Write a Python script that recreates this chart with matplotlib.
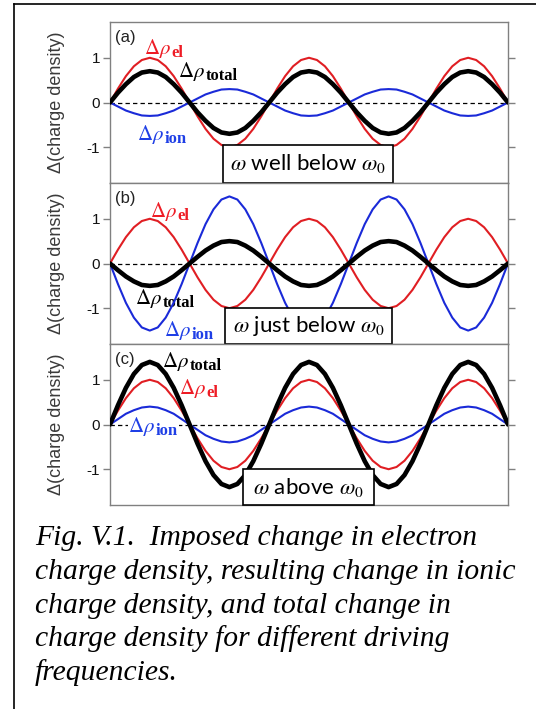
import numpy as np
import matplotlib
matplotlib.use("Agg")
import matplotlib.pyplot as plt
from matplotlib.patches import Rectangle
from matplotlib.lines import Line2D

plt.rcParams["mathtext.fontset"] = "stix"

# imposed electron density, 2.5 driving periods, 20 samples per period
el = [0, 0.31, 0.59, 0.81, 0.95, 1.0, 0.95, 0.81, 0.59, 0.31,
      0, -0.31, -0.59, -0.81, -0.95, -1.0, -0.95, -0.81, -0.59, -0.31,
      0, 0.31, 0.59, 0.81, 0.95, 1.0, 0.95, 0.81, 0.59, 0.31,
      0, -0.31, -0.59, -0.81, -0.95, -1.0, -0.95, -0.81, -0.59, -0.31,
      0, 0.31, 0.59, 0.81, 0.95, 1.0, 0.95, 0.81, 0.59, 0.31, 0]

# (a) omega well below omega_0
ion_a = [0, -0.09, -0.18, -0.24, -0.29, -0.3, -0.29, -0.24, -0.18, -0.09,
         0, 0.09, 0.18, 0.24, 0.29, 0.3, 0.29, 0.24, 0.18, 0.09,
         0, -0.09, -0.18, -0.24, -0.29, -0.3, -0.29, -0.24, -0.18, -0.09,
         0, 0.09, 0.18, 0.24, 0.29, 0.3, 0.29, 0.24, 0.18, 0.09,
         0, -0.09, -0.18, -0.24, -0.29, -0.3, -0.29, -0.24, -0.18, -0.09, 0]
tot_a = [0, 0.22, 0.41, 0.57, 0.67, 0.7, 0.67, 0.57, 0.41, 0.22,
         0, -0.22, -0.41, -0.57, -0.67, -0.7, -0.67, -0.57, -0.41, -0.22,
         0, 0.22, 0.41, 0.57, 0.67, 0.7, 0.67, 0.57, 0.41, 0.22,
         0, -0.22, -0.41, -0.57, -0.67, -0.7, -0.67, -0.57, -0.41, -0.22,
         0, 0.22, 0.41, 0.57, 0.67, 0.7, 0.67, 0.57, 0.41, 0.22, 0]

# (b) omega just below omega_0
ion_b = [0, -0.46, -0.88, -1.21, -1.43, -1.5, -1.43, -1.21, -0.88, -0.46,
         0, 0.46, 0.88, 1.21, 1.43, 1.5, 1.43, 1.21, 0.88, 0.46,
         0, -0.46, -0.88, -1.21, -1.43, -1.5, -1.43, -1.21, -0.88, -0.46,
         0, 0.46, 0.88, 1.21, 1.43, 1.5, 1.43, 1.21, 0.88, 0.46,
         0, -0.46, -0.88, -1.21, -1.43, -1.5, -1.43, -1.21, -0.88, -0.46, 0]
tot_b = [0, -0.15, -0.29, -0.4, -0.48, -0.5, -0.48, -0.4, -0.29, -0.15,
         0, 0.15, 0.29, 0.4, 0.48, 0.5, 0.48, 0.4, 0.29, 0.15,
         0, -0.15, -0.29, -0.4, -0.48, -0.5, -0.48, -0.4, -0.29, -0.15,
         0, 0.15, 0.29, 0.4, 0.48, 0.5, 0.48, 0.4, 0.29, 0.15,
         0, -0.15, -0.29, -0.4, -0.48, -0.5, -0.48, -0.4, -0.29, -0.15, 0]

# (c) omega above omega_0
ion_c = [0, 0.12, 0.24, 0.32, 0.38, 0.4, 0.38, 0.32, 0.24, 0.12,
         0, -0.12, -0.24, -0.32, -0.38, -0.4, -0.38, -0.32, -0.24, -0.12,
         0, 0.12, 0.24, 0.32, 0.38, 0.4, 0.38, 0.32, 0.24, 0.12,
         0, -0.12, -0.24, -0.32, -0.38, -0.4, -0.38, -0.32, -0.24, -0.12,
         0, 0.12, 0.24, 0.32, 0.38, 0.4, 0.38, 0.32, 0.24, 0.12, 0]
tot_c = [0, 0.43, 0.82, 1.13, 1.33, 1.4, 1.33, 1.13, 0.82, 0.43,
         0, -0.43, -0.82, -1.13, -1.33, -1.4, -1.33, -1.13, -0.82, -0.43,
         0, 0.43, 0.82, 1.13, 1.33, 1.4, 1.33, 1.13, 0.82, 0.43,
         0, -0.43, -0.82, -1.13, -1.33, -1.4, -1.33, -1.13, -0.82, -0.43,
         0, 0.43, 0.82, 1.13, 1.33, 1.4, 1.33, 1.13, 0.82, 0.43, 0]

panel_tags = ["(a)", "(b)", "(c)"]
box_texts = [r"$\omega$ well below $\omega_0$",
             r"$\omega$ just below $\omega_0$",
             r"$\omega$ above $\omega_0$"]
ytick_vals = [-1, 0, 1]
ytick_labels = ["-1", "0", "1"]
caption = ["Fig. V.1.  Imposed change in electron",
           "charge density, resulting change in ionic",
           "charge density, and total change in",
           "charge density for different driving",
           "frequencies."]

RED = "#e01e23"
BLUE = "#1a2ad8"
RED_T = "#ee1c25"
BLUE_T = "#1f3fe6"
SPINE = "#808080"

W, H = 536, 709


def fig_rect(x0, y0, x1, y1):
    return [x0 / W, 1 - y1 / H, (x1 - x0) / W, (y1 - y0) / H]


def rho_label(ax, xy, sub, color):
    # "Δρ" with a larger bold subscript than mathtext gives
    bb = dict(facecolor="white", edgecolor="none", pad=0.4)
    ax.text(xy[0], xy[1], r"$\Delta\rho$", color=color, fontsize=15,
            ha="right", va="baseline", zorder=2, bbox=bb)
    ax.annotate(sub, xy, xytext=(0.4, -2.3), textcoords="offset points",
                color=color, fontsize=12, family="Liberation Serif", weight="bold",
                ha="left", va="baseline", zorder=2, bbox=bb)


fig = plt.figure(figsize=(W / 100, H / 100), dpi=100)

series = [(ion_a, tot_a), (ion_b, tot_b), (ion_c, tot_c)]
# label anchors: end of "Δρ" (x in samples) and baseline (data units)
lab_pos = [
    {"el": (7.6, 1.09), "total": (11.9, 0.57), "ion": (6.75, -0.84)},
    {"el": (8.45, 1.04), "total": (6.55, -0.90), "ion": (10.2, -1.61)},
    {"el": (12.1, 0.68), "total": (9.95, 1.28), "ion": (5.7, -0.16)},
]
boxes = [(14.15, 35.55, -0.95), (14.45, 35.45, -1.0), (16.7, 33.15, -1.0)]
tops = [22, 183, 344]
x = np.arange(len(el))

for i in range(3):
    ax = fig.add_axes(fig_rect(110, tops[i], 508, tops[i] + 161))
    ion, tot = series[i]
    ax.axhline(0, color="k", lw=0.9, dashes=(3.5, 2.5), zorder=1)
    ax.plot(x, el, color=RED, lw=1.5, zorder=3)
    ax.plot(x, ion, color=BLUE, lw=1.5, zorder=3)
    ax.plot(x, tot, color="k", lw=3.3, zorder=4, solid_capstyle="round")
    ax.set_xlim(0, len(el) - 1)
    ax.set_ylim(-1.8, 1.8)
    ax.set_xticks([])
    ax.set_yticks(ytick_vals)
    ax.set_yticklabels(ytick_labels, family="Liberation Sans")
    ax.tick_params(axis="y", left=True, right=True, direction="out", length=5,
                   width=1, color=SPINE, labelsize=11, labelcolor="#111111", pad=2)
    for s in ax.spines.values():
        s.set_color(SPINE)
        s.set_linewidth(1.0)

    ax.text(0.013, 0.905, panel_tags[i], transform=ax.transAxes, ha="left", va="center",
            fontsize=12, color="#222222", family="Liberation Sans")
    ax.text(-0.135, 0.5, "\u0394(charge density)", transform=ax.transAxes, rotation=90,
            ha="center", va="center", fontsize=13, color="#3a3a3a", family="Liberation Sans")

    p = lab_pos[i]
    rho_label(ax, p["el"], "el", RED_T)
    rho_label(ax, p["total"], "total", "k")
    rho_label(ax, p["ion"], "ion", BLUE_T)

    bx0, bx1, btop = boxes[i]
    ax.add_patch(Rectangle((bx0, -1.8), bx1 - bx0, btop + 1.8, facecolor="white",
                           edgecolor="k", lw=1.2, zorder=6, clip_on=False))
    ax.text((bx0 + bx1) / 2, (btop - 1.8) / 2, box_texts[i], ha="center", va="center",
            fontsize=16, family="Lato", color="k", zorder=7)

# caption
for j, line in enumerate(caption):
    fig.text(35 / W, 1 - (545 + 33.8 * j) / H, line, ha="left", va="baseline",
             fontsize=21.3, family="Liberation Serif", style="italic", color="k")

# outer frame
fig.add_artist(Line2D([14 / W, 14 / W], [0, 1 - 4 / H], color="k", lw=1.2))
fig.add_artist(Line2D([14 / W, 1], [1 - 4 / H, 1 - 4 / H], color="k", lw=1.2))

fig.savefig("out.png", dpi=100)
